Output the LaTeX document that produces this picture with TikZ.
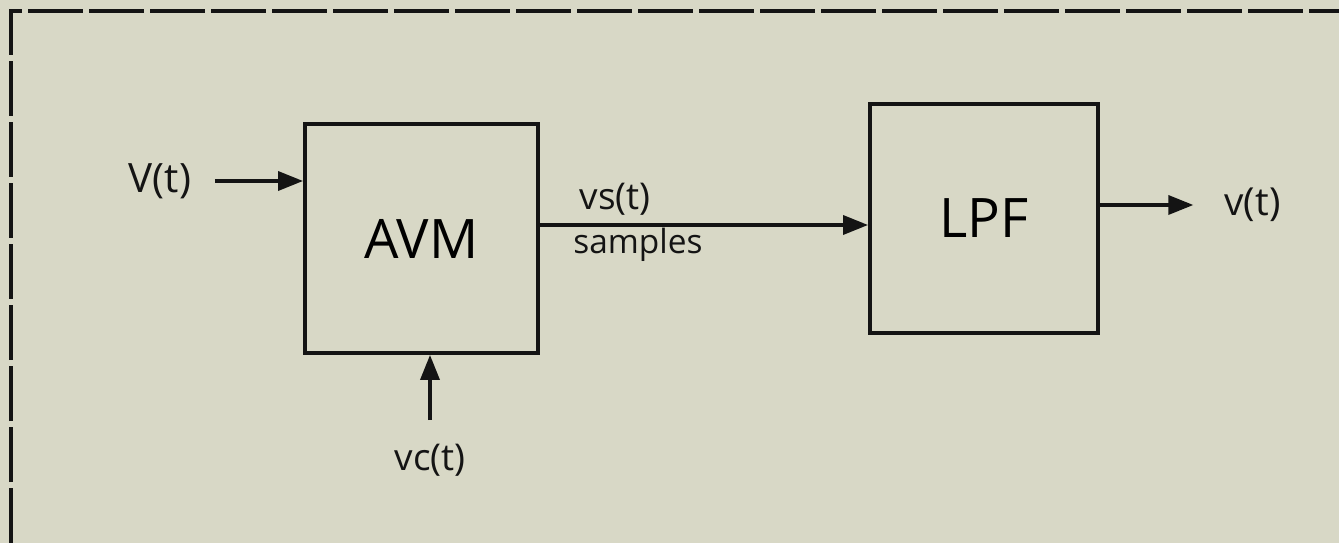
\documentclass[tikz,border=0pt]{standalone}
\usepackage{fontspec}
\setmainfont{Open Sans}
\usetikzlibrary{arrows.meta,calc,positioning}
\definecolor{Paper}{HTML}{D8D8C6}
\definecolor{Ink}{HTML}{141414}

\begin{document}
\begin{tikzpicture}[
    blockbox/.style={
      draw=Ink,
      line width=2.2pt,
      minimum width=4.66cm,
      minimum height=4.58cm,
      font=\fontsize{31}{31}\selectfont
    },
    sig/.style={text=Ink, font=\fontsize{21}{23}\selectfont},
    wire/.style={draw=Ink, line width=2pt, -{Triangle[length=0.5cm,width=0.38cm]}}
  ]
  % paper and frame
  \fill[Paper] (0,0) rectangle (26.78,-10.86);
  \useasboundingbox (0,0) rectangle (26.78,-10.86);
  \draw[Ink, line width=2.2pt, dash pattern=on 1.1cm off 0.12cm]
    (0.22,-10.86) -- (0.22,-0.22) -- (26.78,-0.22);

  % blocks
  \node[blockbox] (avm) at (8.43,-4.77) {AVM};
  \node[blockbox, minimum width=4.56cm] (lpf) at (19.68,-4.37) {LPF};

  % signals
  \node[sig, font=\fontsize{23}{25}\selectfont] (vin) at (3.2,-3.62) {V(t)};
  \node[sig, font=\fontsize{22}{24}\selectfont] (vout) at (25.05,-4.1) {v(t)};
  \node[sig] (vc) at (8.6,-9.2) {vc(t)};
  \coordinate (vsout) at ($(avm.east)+(0,0.27)$);
  \node[sig] (vslbl) at (12.3,-3.98) {vs(t)};
  \node[sig, font=\fontsize{19}{21}\selectfont] (smp) at (12.76,-4.9) {samples};

  \draw[wire] ([xshift=0.35cm]vin.east) -- (vin -| avm.west);
  \draw[wire] (vsout) -- (vsout -| lpf.west);
  \draw[wire] (lpf.east |- vout) -- ([xshift=-0.5cm]vout.west);
  \draw[wire] ([yshift=0.35cm]vc.north) -- (vc.north |- avm.south);
\end{tikzpicture}
\end{document}
